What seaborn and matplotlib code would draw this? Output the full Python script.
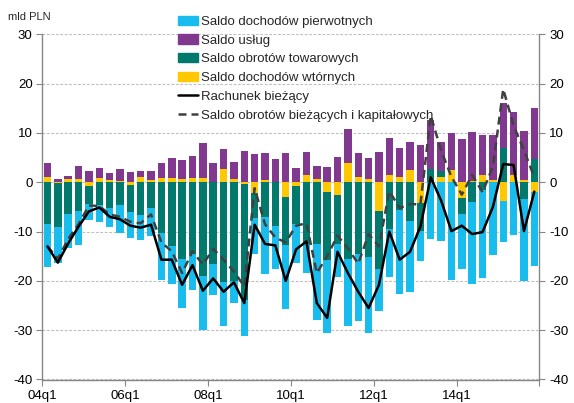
import numpy as np
import pandas as pd
import matplotlib
matplotlib.use("Agg")
import matplotlib.pyplot as plt
import seaborn as sns
from matplotlib.patches import Patch
from matplotlib.lines import Line2D

quarters = [f"{y:02d}q{q}" for y in range(4, 16) for q in range(1, 5)]
tick_labels = ["04q1", "06q1", "08q1", "10q1", "12q1", "14q1", ""]

primary = [-8.7, -7.4, -7.0, -6.9, -3.3, -3.5, -3.7, -5.6, -5.1, -5.1, -5.5, -9.6,
           -7.8, -9.9, -7.4, -10.9, -6.3, -8.8, -4.3, -7.3, -7.4, -11.4, -8.8, -13.0,
           -8.0, -5.8, -15.5, -14.7, -6.8, -13.5, -13.6, -15.4, -8.6, -9.8, -17.0, -14.5,
           -6.0, -11.6, -12.0, -19.8, -11.1, -16.6, -17.9, -14.7, -8.5, -10.7, -16.7, -14.9]
services = [2.7, 0.6, 0.5, 2.7, 2.2, 2.0, 1.35, 2.5, 2.0, 1.15, 1.7, 3.2,
            4.2, 3.85, 4.4, 7.0, 3.9, 4.05, 3.6, 6.4, 5.7, 5.4, 4.65, 5.9,
            2.8, 4.6, 2.6, 3.2, 5.2, 6.9, 4.9, 4.25, 6.1, 7.4, 5.9, 5.7,
            7.5, 10.0, 5.95, 7.7, 8.7, 10.1, 8.0, 9.1, 9.1, 12.7, 9.9, 10.3]
goods = [-8.5, -8.8, -6.4, -5.9, -3.7, -4.6, -5.3, -4.7, -5.5, -6.6, -5.3, -10.3,
         -12.9, -15.6, -14.5, -19.0, -16.5, -20.3, -20.1, -23.5, -5.0, -7.1, -8.85, -9.9,
         -7.7, -12.5, -12.5, -13.9, -9.9, -15.6, -14.5, -15.1, -11.8, -9.4, -5.6, -7.8,
         -5.6, 2.6, 1.3, 0.0, -3.2, -4.0, -1.5, 0.0, 6.9, 0.0, -3.4, 4.7]
secondary = [1.15, -0.2, 0.7, 0.7, -0.7, 0.9, 0.5, 0.2, -0.6, 1.15, 0.5, 0.8,
             0.8, 0.7, 0.95, 0.95, 0.1, 2.7, 0.6, -0.3, -2.2, 0.5, 0.1, -2.9,
             -0.7, 1.5, 0.7, -1.9, -2.6, 3.85, 1.0, 0.6, -5.8, 1.5, 1.0, 2.5,
             -4.3, 0.0, 1.0, 2.4, -3.2, 0.2, 1.5, 0.5, -3.7, 1.5, 0.5, -2.0]
current = [-13.0, -16.3, -12.4, -9.0, -5.9, -5.1, -7.0, -7.5, -8.8, -9.2, -8.6, -15.7,
           -15.7, -20.8, -16.8, -22.0, -19.5, -22.2, -20.3, -24.5, -8.6, -12.5, -12.8, -20.0,
           -13.6, -12.0, -24.5, -27.5, -14.1, -18.4, -22.2, -25.5, -20.8, -10.0, -15.7, -14.1,
           -9.0, 1.0, -3.7, -9.9, -8.8, -10.5, -10.1, -5.0, 3.7, 3.5, -9.9, -1.9]
current_capital = [-13.0, -15.5, -11.5, -8.5, -4.7, -4.8, -6.5, -7.0, -8.0, -8.3, -6.5, -12.2,
                   -14.0, -18.4, -14.0, -16.7, -13.5, -15.7, -18.1, -21.1, -1.2, -8.5, -11.2, -12.2,
                   -8.8, -8.3, -18.4, -15.0, -10.8, -13.4, -16.5, -10.5, -13.0, -1.8, -5.2, -4.4,
                   -4.5, 13.5, 6.5, 1.1, -2.5, 1.5, -2.0, 3.2, 18.9, 11.5, 6.5, 1.0]

names = ["Saldo dochodów pierwotnych", "Saldo usług", "Saldo obrotów towarowych",
         "Saldo dochodów wtórnych", "Rachunek bieżący",
         "Saldo obrotów bieżących i kapitałowych"]
c_primary, c_services, c_goods, c_secondary = "#18BDEE", "#80398E", "#02796D", "#FFC800"

df = pd.DataFrame({"q": quarters, "primary": primary, "services": services,
                   "goods": goods, "secondary": secondary,
                   "current": current, "cc": current_capital})
df["idx"] = np.arange(len(df))

sns.set_theme(style="white")
plt.rcParams["font.family"] = ["Liberation Sans", "DejaVu Sans"]
plt.rcParams["axes.unicode_minus"] = False

fig = plt.figure(figsize=(5.74, 4.03), dpi=100)
ax = fig.add_axes([42.3 / 574, 1 - 379.5 / 403, (539.5 - 42.3) / 574, (379.5 - 34.4) / 403])

# stacking order from zero outward
stack = [("secondary", c_secondary), ("goods", c_goods), ("services", c_services), ("primary", c_primary)]
pc = np.zeros(len(df))
nc = np.zeros(len(df))
pos_layers, neg_layers = [], []
for col, colr in stack:
    v = df[col].to_numpy()
    pc = pc + np.clip(v, 0, None)
    nc = nc + np.clip(v, None, 0)
    pos_layers.append((pc.copy(), colr))
    neg_layers.append((nc.copy(), colr))

for layers in (pos_layers, neg_layers):
    for vals, colr in reversed(layers):
        sns.barplot(x=df["q"], y=vals, order=quarters, color=colr, saturation=1,
                    width=0.72, errorbar=None, linewidth=0, ax=ax, zorder=2)

sns.lineplot(data=df, x="idx", y="cc", color="#404040", linewidth=1.8,
             linestyle=(0, (3.2, 2.0)), ax=ax, zorder=3)
sns.lineplot(data=df, x="idx", y="current", color="black", linewidth=1.8, ax=ax, zorder=4)

ax.set_xlim(-0.5, len(df) - 0.5)
ax.set_ylim(-40, 30)
ax.set_yticks(np.arange(-40, 31, 10))
ax.set_xticks(np.arange(-0.5, len(df), 8))
ax.set_xticklabels(tick_labels)
ax.set_xlabel("")
ax.set_ylabel("")
ax.set_axisbelow(True)
ax.yaxis.grid(True, color="#BFBFBF", linestyle=(0, (2.5, 1.5)), linewidth=0.8)
ax.xaxis.grid(False)
for s in ("left", "right", "bottom"):
    ax.spines[s].set_color("#868686")
    ax.spines[s].set_linewidth(1.0)
ax.spines["top"].set_visible(False)
ax.tick_params(axis="both", which="both", length=4, width=0.8, color="#868686",
               labelsize=9.5, labelcolor="#000000", direction="out")
ax.tick_params(axis="y", left=True, right=True, labelleft=True, labelright=True, pad=3)
ax.tick_params(axis="x", bottom=True, pad=3.5)

fig.text(8 / 574, 1 - 17 / 403, "mld PLN", fontsize=8, va="center", ha="left")

handles = [Patch(color=c_primary), Patch(color=c_services), Patch(color=c_goods),
           Patch(color=c_secondary),
           Line2D([], [], color="black", lw=1.8),
           Line2D([], [], color="#404040", lw=1.8, linestyle=(0, (3.2, 2.0)))]
fig.legend(handles, names, loc="upper left", bbox_to_anchor=(178 / 574, 1 - 15.5 / 403),
           frameon=False, fontsize=9.5, borderpad=0, borderaxespad=0,
           handlelength=1.55, handleheight=0.7, handletextpad=0.2, labelspacing=0.5)

fig.savefig("out.png", dpi=100)
